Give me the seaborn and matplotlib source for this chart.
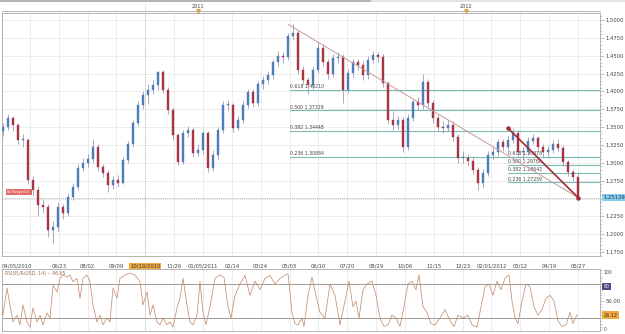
import numpy as np
import pandas as pd
import matplotlib
matplotlib.use("Agg")
import matplotlib.pyplot as plt
import matplotlib.patches as mpatches
import matplotlib.transforms as mtransforms
from matplotlib.ticker import FixedLocator, MultipleLocator, FuncFormatter
import seaborn as sns

# ---------------- data (weekly candles) ----------------
first_open = 1.345
closes = [1.350, 1.363, 1.353, 1.332, 1.332, 1.276, 1.262, 1.241, 1.238, 1.206,
          1.210, 1.238, 1.230, 1.252, 1.266, 1.293, 1.300, 1.305, 1.322, 1.294,
          1.286, 1.269, 1.276, 1.272, 1.304, 1.326, 1.356, 1.381, 1.395, 1.402,
          1.409, 1.427, 1.402, 1.374, 1.339, 1.301, 1.342, 1.346, 1.314, 1.318,
          1.342, 1.293, 1.311, 1.346, 1.381, 1.381, 1.349, 1.360, 1.381, 1.399,
          1.384, 1.410, 1.416, 1.423, 1.441, 1.450, 1.448, 1.478, 1.482, 1.430,
          1.416, 1.409, 1.430, 1.461, 1.441, 1.424, 1.447, 1.448, 1.402, 1.426,
          1.441, 1.437, 1.423, 1.444, 1.451, 1.448, 1.412, 1.360, 1.353, 1.360,
          1.322, 1.363, 1.385, 1.381, 1.413, 1.384, 1.363, 1.350, 1.349, 1.353,
          1.336, 1.307, 1.307, 1.303, 1.290, 1.272, 1.286, 1.311, 1.315, 1.329,
          1.322, 1.332, 1.342, 1.315, 1.315, 1.331, 1.335, 1.322, 1.315, 1.318,
          1.326, 1.321, 1.301, 1.287, 1.280, 1.2514]
highs = [1.356, 1.369, 1.366, 1.356, 1.340, 1.335, 1.282, 1.267, 1.249, 1.243,
         1.218, 1.245, 1.242, 1.258, 1.272, 1.298, 1.307, 1.312, 1.333, 1.326,
         1.298, 1.290, 1.282, 1.283, 1.308, 1.331, 1.360, 1.386, 1.400, 1.410,
         1.416, 1.428, 1.430, 1.406, 1.378, 1.342, 1.346, 1.352, 1.350, 1.326,
         1.345, 1.345, 1.318, 1.350, 1.386, 1.388, 1.384, 1.366, 1.386, 1.404,
         1.403, 1.415, 1.422, 1.428, 1.446, 1.456, 1.455, 1.482, 1.494, 1.486,
         1.436, 1.420, 1.436, 1.469, 1.466, 1.446, 1.452, 1.455, 1.452, 1.432,
         1.446, 1.445, 1.442, 1.449, 1.456, 1.455, 1.452, 1.415, 1.372, 1.366,
         1.364, 1.368, 1.390, 1.392, 1.425, 1.418, 1.388, 1.368, 1.358, 1.360,
         1.358, 1.340, 1.316, 1.312, 1.308, 1.294, 1.292, 1.316, 1.322, 1.334,
         1.334, 1.338, 1.349, 1.346, 1.322, 1.336, 1.340, 1.338, 1.326, 1.324,
         1.332, 1.334, 1.325, 1.304, 1.292, 1.286]
lows = [1.338, 1.346, 1.345, 1.326, 1.322, 1.270, 1.254, 1.226, 1.230, 1.196,
        1.188, 1.205, 1.222, 1.225, 1.248, 1.262, 1.288, 1.294, 1.300, 1.288,
        1.280, 1.259, 1.264, 1.266, 1.270, 1.300, 1.322, 1.352, 1.376, 1.382,
        1.396, 1.402, 1.398, 1.368, 1.332, 1.297, 1.298, 1.336, 1.308, 1.310,
        1.312, 1.287, 1.288, 1.306, 1.342, 1.372, 1.343, 1.346, 1.356, 1.377,
        1.378, 1.380, 1.404, 1.410, 1.418, 1.436, 1.440, 1.444, 1.472, 1.424,
        1.410, 1.397, 1.404, 1.426, 1.436, 1.418, 1.420, 1.440, 1.384, 1.398,
        1.420, 1.430, 1.416, 1.418, 1.440, 1.441, 1.406, 1.354, 1.346, 1.348,
        1.315, 1.318, 1.358, 1.374, 1.376, 1.378, 1.356, 1.344, 1.342, 1.345,
        1.330, 1.300, 1.300, 1.296, 1.284, 1.262, 1.265, 1.282, 1.306, 1.310,
        1.316, 1.318, 1.328, 1.310, 1.305, 1.311, 1.326, 1.316, 1.308, 1.310,
        1.314, 1.316, 1.296, 1.282, 1.274, 1.249]

rsi_session = [0, 3, 7, 10, 13, 17, 20, 23, 27, 30, 33, 37, 40, 43, 47, 50, 53, 57, 60, 63,
               67, 70, 73, 77, 80, 83, 87, 90, 93, 97, 100, 103, 107, 110, 113, 117, 120, 125, 130, 135,
               140, 143, 147, 150, 153, 157, 160, 163, 167, 170, 173, 177, 180, 183, 187, 190, 193, 197, 200, 203,
               206, 210, 215, 220, 224, 228, 231, 235, 240, 245, 250, 255, 260, 265, 270, 275, 280, 285, 288, 292,
               295, 298, 302, 304, 308, 312, 316, 320, 325, 330, 335, 340, 345, 349, 353, 356, 359, 363, 367, 372,
               376, 380, 384, 388, 392, 396, 400, 404, 408, 412, 416, 419, 423, 427, 431, 435, 440, 445, 450, 454,
               458, 463, 468, 472, 477, 481, 485, 489, 493, 497, 501, 505, 509, 512, 515, 518, 522, 526, 530, 534,
               538, 542, 546, 550, 554, 558, 562, 566, 570, 573, 577]
rsi_value = [60, 25, 73, 43, 13, 25, 8, 43, 13, 4, 38, 13, 25, 8, 29, 20, 78, 66, 90, 96,
             92, 96, 84, 90, 55, 90, 96, 84, 43, 13, 25, 8, 20, 13, 73, 55, 90, 96, 99, 96,
             84, 43, 66, 25, 43, 13, 8, 20, 8, 13, 4, 38, 55, 90, 43, 13, 8, 25, 84, 30,
             8, 40, 90, 96, 92, 40, 20, 60, 80, 95, 60, 85, 70, 90, 95, 80, 90, 96, 98, 30,
             10, 8, 20, 5, 60, 92, 60, 30, 20, 80, 60, 8, 50, 85, 40, 50, 20, 70, 80, 85,
             60, 20, 5, 8, 25, 20, 5, 40, 80, 85, 70, 96, 40, 30, 10, 8, 20, 35, 15, 5,
             25, 20, 25, 8, 4, 40, 75, 80, 60, 85, 70, 90, 96, 50, 20, 10, 50, 80, 75, 40,
             25, 35, 55, 60, 50, 15, 5, 8, 30, 10, 26]

date_labels = ["04/05/2010", "", "06/23", "08/02", "09/09", "10/19/2010", "11/26",
               "01/05/2011", "02/14", "03/24", "05/03", "06/10", "07/20", "08/29",
               "10/06", "11/15", "12/23", "02/01/2012", "03/12", "04/19", "05/27"]
year_labels = ["2011", "2012"]
year_sessions = [198, 466]
cursor_session = 145

fib_ratios = ["0.618", "0.500", "0.382", "0.236"]
fib_big_price = [1.40210, 1.37329, 1.34448, 1.30884]
fib_small_price = [1.30878, 1.29760, 1.28642, 1.27259]
fib_big_start = 290
fib_small_start = 508
last_price = 1.25139
peak_session, peak_price = 288, 1.4940
swing_session, swing_price = 508, 1.3486
last_session = 578
rsi_last = "26.12"

assert len(closes) == len(highs) == len(lows)
assert len(rsi_session) == len(rsi_value)

# ---------------- derived table ----------------
n = len(closes)
df = pd.DataFrame({"week": np.arange(n), "close": closes, "high": highs, "low": lows})
df["open"] = [first_open] + closes[:-1]
df["session"] = 3 + 5 * df["week"]
rsi_df = pd.DataFrame({"session": rsi_session, "rsi": rsi_value})

# ---------------- style ----------------
sns.set_theme(style="white")
plt.rcParams["font.family"] = ["DejaVu Sans"]
plt.rcParams["axes.linewidth"] = 0.6

W, H = 625, 334
fig = plt.figure(figsize=(W / 100, H / 100), dpi=100)
fig.patch.set_facecolor("white")

def fx(px):
    return px / W

def fy(py):
    return 1 - py / H

XL = (2, 600)
ax_top = fig.add_axes([fx(2), fy(11), fx(598), 9 / H])
ax = fig.add_axes([fx(2), fy(256), fx(598), 243 / H])
ax_r = fig.add_axes([fx(2), fy(331), fx(598), 62 / H])

grid_pos = [2.05] + [1 + 28.85 * k for k in range(1, len(date_labels))]
minor_pos = [1 + 28.85 / 5 * k for k in range(1, 5 * len(date_labels) + 1)]
frame_c = "#a8a8a8"
grid_c = "#e9e9e9"
txt_c = "#444444"

# scroll bar at the very top
fig.patches.append(mpatches.Rectangle((0, fy(2)), fx(371), 2 / H, transform=fig.transFigure,
                                      facecolor="#b4b4bc", edgecolor="none"))
fig.patches.append(mpatches.Rectangle((fx(371), fy(2)), fx(254), 2 / H, transform=fig.transFigure,
                                      facecolor="#e4e4e8", edgecolor="none"))

# ---------------- top strip ----------------
ax_top.set_xlim(*XL)
ax_top.set_ylim(0, 1)
for s in ["left", "right", "top"]:
    ax_top.spines[s].set_visible(False)
ax_top.spines["bottom"].set_color(frame_c)
ax_top.set_yticks([])
ax_top.xaxis.set_major_locator(FixedLocator([1 + 28.85 * 2.5 * k for k in range(1, 9)]))
ax_top.tick_params(axis="x", direction="in", length=2, width=0.5, colors=frame_c, labelbottom=False)
for s, lab in zip(year_sessions, year_labels):
    ax_top.text(s, 0.55, lab, ha="center", va="center", fontsize=3.6, color=txt_c)
    ax_top.plot([s], [0.05], marker="v", ms=2.5, color="#e8a030", clip_on=False)
ax_top.axvline(cursor_session, color="#aaaaaa", lw=0.6, ls=":")

# ---------------- main candlestick panel ----------------
ax.set_xlim(*XL)
ax.set_ylim(1.1695, 1.5098)
up_c, dn_c = "#4f7dba", "#a83444"
for _, r in df.iterrows():
    c = up_c if r["close"] >= r["open"] else dn_c
    ax.vlines(r["session"], r["low"], r["high"], color="#9a8fb0", lw=0.7, alpha=0.8, zorder=3)
    body = max(abs(r["close"] - r["open"]), 0.0012)
    ax.bar(r["session"], body, bottom=min(r["close"], r["open"]), width=2.2,
           color=c, edgecolor=c, lw=0.3, zorder=4)

ax.yaxis.tick_right()
ax.yaxis.set_major_locator(MultipleLocator(0.025))
ax.yaxis.set_minor_locator(MultipleLocator(0.005))
ax.yaxis.set_major_formatter(FuncFormatter(lambda v, p: "" if abs(v - 1.25) < 1e-6 else f"{v:.4f}"))
ax.tick_params(axis="y", which="major", direction="out", length=3, width=0.5, colors=frame_c,
               labelsize=3.8, labelcolor=txt_c, pad=1)
ax.tick_params(axis="y", which="minor", direction="out", length=1.5, width=0.4, colors=frame_c)
ax.xaxis.set_major_locator(FixedLocator(grid_pos))
ax.xaxis.set_minor_locator(FixedLocator(minor_pos))
ax.set_xticklabels(date_labels)
ax.tick_params(axis="x", which="major", direction="out", length=3, width=0.5, colors=frame_c,
               labelsize=3.8, labelcolor=txt_c, pad=2.5)
ax.tick_params(axis="x", which="minor", direction="out", length=1.5, width=0.4, colors=frame_c)
lbls = ax.get_xticklabels()
lbls[0].set_horizontalalignment("left")
lbls[5].set_bbox(dict(boxstyle="square,pad=0.15", facecolor="#f2a93b", edgecolor="none"))
ax.grid(True, which="major", color=grid_c, lw=0.6)
for s in ax.spines.values():
    s.set_color(frame_c)
ax.axvline(cursor_session, color="#b0b0b0", lw=0.6, ls=":", zorder=1)

# last price dotted line
ax.axhline(last_price, color="#9a9a9a", lw=0.6, ls=(0, (1, 1.5)), zorder=2)

# fibonacci levels
fib_c = "#7dbab5"
for ratio, p in zip(fib_ratios, fib_big_price):
    ax.plot([fib_big_start, XL[1]], [p, p], color=fib_c, lw=0.8, zorder=2)
    ax.text(fib_big_start, p + 0.0012, f"{ratio} {p:.5f}", fontsize=3.3, color=txt_c,
            ha="left", va="bottom", zorder=5)
for ratio, p in zip(fib_ratios, fib_small_price):
    ax.plot([fib_small_start, XL[1]], [p, p], color=fib_c, lw=0.8, zorder=2)
    ax.text(fib_small_start, p + 0.0012, f"{ratio} {p:.5f}", fontsize=3.3, color=txt_c,
            ha="left", va="bottom", zorder=5)

# trend lines
ax.plot([peak_session, last_session], [peak_price, last_price], color="#c99a9a", lw=0.7, zorder=5)
ax.plot([swing_session, last_session], [swing_price, last_price], color="#a52a35", lw=1.2, zorder=6)
ax.plot([swing_session, last_session], [swing_price, last_price], "o", color="#a52a35", ms=2.2, zorder=7)

# right-axis current price box
blend = mtransforms.blended_transform_factory(ax.transAxes, ax.transData)
ax.text(1.006, last_price, "1.25139", transform=blend, fontsize=3.8, color="#1a3a5a",
        ha="left", va="center", clip_on=False, zorder=10,
        bbox=dict(boxstyle="square,pad=0.25", facecolor="#86cdf0", edgecolor="none"))
# left alert tag
ax.text(7, 1.2595, "SL/Target(2)", fontsize=2.8, color="white", ha="left", va="center", zorder=10,
        bbox=dict(boxstyle="square,pad=0.3", facecolor="#e36868", edgecolor="none"))

# ---------------- RSI panel ----------------
ax_r.set_xlim(*XL)
ax_r.set_ylim(-2.9, 106.5)
sns.lineplot(data=rsi_df, x="session", y="rsi", ax=ax_r, color="#c49070", lw=0.55, zorder=3)
ax_r.axhline(80, color="#a09a96", lw=0.7, zorder=2)
ax_r.axhline(20, color="#a09a96", lw=0.7, zorder=2)
ax_r.set_xlabel("")
ax_r.set_ylabel("")
ax_r.xaxis.set_major_locator(FixedLocator(grid_pos))
ax_r.xaxis.set_minor_locator(FixedLocator(minor_pos))
ax_r.tick_params(axis="x", which="both", length=0, labelbottom=False)
ax_r.grid(True, axis="x", which="major", color=grid_c, lw=0.6)
ax_r.axvline(cursor_session, color="#b0b0b0", lw=0.6, ls=":", zorder=1)
ax_r.yaxis.tick_right()
ax_r.yaxis.set_major_locator(FixedLocator([50]))
ax_r.yaxis.set_minor_locator(MultipleLocator(5))
ax_r.yaxis.set_major_formatter(FuncFormatter(lambda v, p: f"{v:.2f}"))
ax_r.tick_params(axis="y", which="major", direction="out", length=3, width=0.5, colors=frame_c,
                 labelsize=3.8, labelcolor=txt_c, pad=1)
ax_r.tick_params(axis="y", which="minor", direction="out", length=1.5, width=0.4, colors=frame_c)
for s in ax_r.spines.values():
    s.set_color(frame_c)
ax_r.text(0.005, 0.97, f"RSI(EUR/USD, 14) -- 96.65", transform=ax_r.transAxes, fontsize=3.3,
          color="#a06a4a", ha="left", va="top")
blend_r = mtransforms.blended_transform_factory(ax_r.transAxes, ax_r.transData)
ax_r.text(1.006, 100, "100", transform=blend_r, fontsize=3.3, color=txt_c, ha="left", va="center",
          clip_on=False)
ax_r.text(1.006, 76, "80", transform=blend_r, fontsize=3.3, color="white", ha="left", va="center",
          clip_on=False, bbox=dict(boxstyle="square,pad=0.25", facecolor="#4a4a86", edgecolor="none"))
ax_r.text(1.006, 25, rsi_last, transform=blend_r, fontsize=3.5, color="#333333", ha="left",
          va="center", clip_on=False,
          bbox=dict(boxstyle="square,pad=0.25", facecolor="#f2a93b", edgecolor="none"))
ax_r.text(1.006, 0, "0", transform=blend_r, fontsize=3.3, color=txt_c, ha="left", va="center",
          clip_on=False)

fig.savefig("out.png", dpi=100)
